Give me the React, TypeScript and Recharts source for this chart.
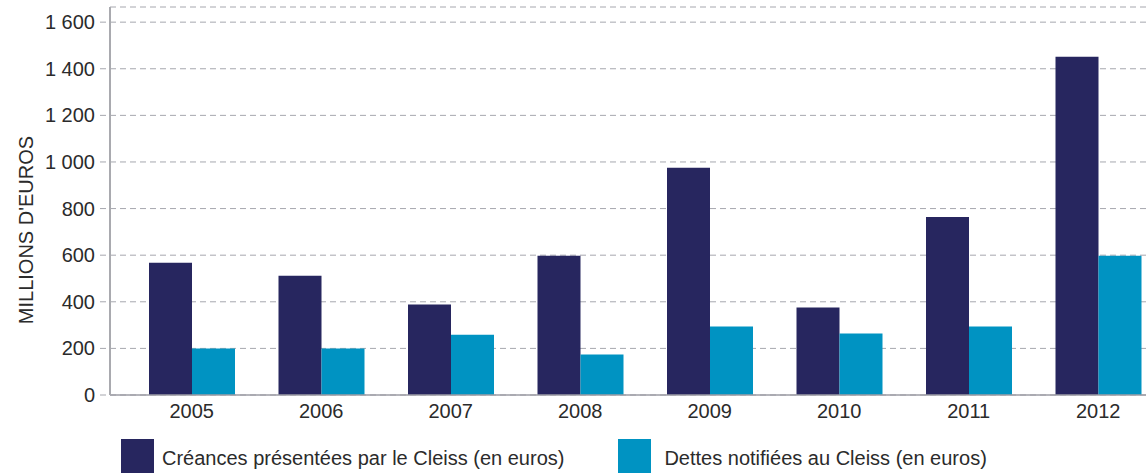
import { Bar, BarChart, CartesianGrid, XAxis, YAxis } from "recharts";

const years = ["2005", "2006", "2007", "2008", "2009", "2010", "2011", "2012"];
const creances = [567, 512, 388, 598, 975, 375, 764, 1451];
const dettes = [200, 200, 259, 174, 294, 264, 294, 598];
const yTicks = [0, 200, 400, 600, 800, 1000, 1200, 1400, 1600];

const series = [
  { key: "creances", label: "Créances présentées par le Cleiss (en euros)", color: "#27265f" },
  { key: "dettes", label: "Dettes notifiées au Cleiss (en euros)", color: "#0093c2" },
];

const data = years.map((year, i) => ({
  year,
  creances: creances[i],
  dettes: dettes[i],
}));

const FONT = '"Liberation Sans", Arial, Helvetica, sans-serif';
const TEXT = "#2b2b2b";
const GRID = "#a6a7ae";

// french thousands separator: 1600 -> "1 600"
const frNum = (v: number) => String(v).replace(/\B(?=(\d{3})+(?!\d))/g, " ");

function YearTick({ x, payload }: any) {
  return (
    <text x={x} y={418} textAnchor="middle" fill={TEXT} fontSize={20} fontFamily={FONT}>
      {payload.value}
    </text>
  );
}

export default function App() {
  return (
    <div
      style={{
        position: "absolute",
        left: 0,
        top: 0,
        width: 1146,
        height: 473,
        overflow: "hidden",
        background: "#fff",
        fontFamily: FONT,
      }}
    >
      <BarChart
        width={1163}
        height={430}
        data={data}
        margin={{ top: 7, right: 0, bottom: 0, left: 0 }}
        barGap={0}
        barSize={43}
      >
        <CartesianGrid vertical={false} stroke={GRID} strokeDasharray="6 4" />
        <XAxis
          dataKey="year"
          height={35}
          padding={{ left: 17, right: 0 }}
          axisLine={{ stroke: "#9c9da4", strokeWidth: 1.5 }}
          tickLine={false}
          tick={<YearTick />}
          interval={0}
        />
        <YAxis
          width={110}
          domain={[0, 1665]}
          ticks={yTicks}
          interval={0}
          axisLine={{ stroke: "#a9aaaf", strokeWidth: 2 }}
          tickLine={{ stroke: GRID, strokeDasharray: "6 4" }}
          tickSize={10}
          tickMargin={5}
          tickFormatter={frNum}
          tick={{ fill: TEXT, fontSize: 20, fontFamily: FONT }}
          label={{
            value: "MILLIONS D'EUROS",
            angle: -90,
            position: "insideLeft",
            dx: 21,
            dy: 29,
            style: { fill: TEXT, fontSize: 20, fontFamily: FONT, textAnchor: "middle" },
          }}
        />
        {series.map((s) => (
          <Bar key={s.key} dataKey={s.key} fill={s.color} isAnimationActive={false} />
        ))}
      </BarChart>
      <div style={{ position: "absolute", top: 439, left: 121, display: "flex", alignItems: "flex-start" }}>
        {series.map((s, i) => (
          <div
            key={s.key}
            style={{ display: "flex", alignItems: "flex-start", marginLeft: i === 0 ? 0 : 54 }}
          >
            <div style={{ width: 33, height: 40, background: s.color }} />
            <span
              style={{
                marginLeft: i === 0 ? 8 : 13,
                marginTop: 8,
                fontSize: 20,
                lineHeight: "22px",
                color: TEXT,
                whiteSpace: "nowrap",
              }}
            >
              {s.label}
            </span>
          </div>
        ))}
      </div>
    </div>
  );
}
